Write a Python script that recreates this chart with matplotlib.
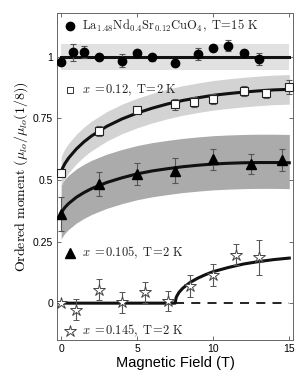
import matplotlib
matplotlib.use("Agg")
import matplotlib.pyplot as plt
import numpy as np

plt.rcParams['mathtext.fontset'] = 'cm'
plt.rcParams['font.family'] = ['Liberation Sans', 'DejaVu Sans']

# ---- data ----
circle_T = [0, 0.75, 1.5, 2.5, 4, 5, 6, 7.5, 9, 10, 11, 12, 13]
circle_M = [0.980, 1.018, 1.020, 0.998, 0.985, 1.015, 0.998, 0.977, 1.011, 1.034, 1.045, 1.014, 0.990]
circle_err = [0.012, 0.036, 0.024, 0.012, 0.025, 0.012, 0.014, 0.012, 0.024, 0.012, 0.022, 0.012, 0.024]

sq_T = [0, 2.5, 5, 7.5, 8.75, 10, 12, 13.5, 15]
sq_M = [0.530, 0.699, 0.784, 0.807, 0.818, 0.830, 0.861, 0.853, 0.878]
sq_err = [0.010, 0.020, 0.010, 0.022, 0.020, 0.020, 0.020, 0.018, 0.028]

tri_T = [0, 2.5, 5, 7.5, 10, 12.5, 14.5]
tri_M = [0.363, 0.484, 0.525, 0.538, 0.584, 0.565, 0.581]
tri_err = [0.070, 0.049, 0.046, 0.050, 0.042, 0.042, 0.045]

st_T = [0, 1, 2.5, 4, 5.5, 7, 8.5, 10, 11.5, 13]
st_M = [0.0, -0.026, 0.055, 0.003, 0.044, 0.010, 0.071, 0.115, 0.197, 0.186]
st_err = [0.0, 0.042, 0.042, 0.041, 0.042, 0.041, 0.045, 0.045, 0.043, 0.072]

# fit curves
fit_T = [0, 0.1, 0.25, 0.5, 1, 1.5, 2, 3, 4, 5, 6, 7, 8, 9, 10, 11, 12, 13, 14, 15]
sq_fit = [0.533, 0.549, 0.567, 0.590, 0.626, 0.655, 0.679, 0.718, 0.748, 0.772,
          0.792, 0.809, 0.823, 0.834, 0.844, 0.851, 0.857, 0.862, 0.866, 0.868]
tri_fit = [0.365, 0.376, 0.389, 0.405, 0.430, 0.449, 0.465, 0.490, 0.509, 0.525,
           0.537, 0.546, 0.554, 0.560, 0.565, 0.568, 0.570, 0.571, 0.571, 0.570]
st_fit_T = [0, 7.5, 7.55, 7.6, 7.75, 8, 8.5, 9, 9.5, 10, 11, 12, 13, 14, 15]
st_fit = [0, 0, 0.020, 0.028, 0.044, 0.061, 0.085, 0.102, 0.116, 0.128, 0.145,
          0.159, 0.169, 0.177, 0.183]

circle_level = 1.0
circle_band = 0.054
sq_band = 0.06
tri_band_up = 0.115
tri_band_dn = 0.105

xticks = [0, 5, 10, 15]
yticks = [0, 0.25, 0.5, 0.75, 1]
yticklabels = ['0', '0.25', '0.5', '0.75', '1']

labels = [r'$\mathrm{La_{1.48}Nd_{0.4}Sr_{0.12}CuO_4,\ T\!=\!15\ K}$',
          r'$x\ =\!0.12,\ \mathrm{T\!=\!2\ K}$',
          r'$x\ =\!0.105,\ \mathrm{T\!=\!2\ K}$',
          r'$x\ =\!0.145,\ \mathrm{T\!=\!2\ K}$']

# ---- figure ----
fig = plt.figure(figsize=(3.05, 3.8), dpi=100)
ax = fig.add_axes([0.188, 0.105, 0.773, 0.862])

ft = np.array(fit_T)
sqf = np.array(sq_fit)
trf = np.array(tri_fit)

ax.fill_between([0, 15], circle_level - circle_band, circle_level + circle_band,
                color='#e1e1e1', lw=0, zorder=1)
ax.fill_between(ft, trf - tri_band_dn, trf + tri_band_up, color='#ababab', lw=0, zorder=1)
ax.fill_between(ft, sqf - sq_band, sqf + sq_band, color='#d3d3d3', lw=0, zorder=1.1)

# fit lines
ax.plot([0, 15], [circle_level, circle_level], color='#111111', lw=2.2, zorder=3)
ax.plot(ft, sqf, color='#111111', lw=2.2, zorder=3)
ax.plot(ft, trf, color='#111111', lw=2.2, zorder=3)
ax.plot(st_fit_T, st_fit, color='#111111', lw=2.2, zorder=3)
ax.plot([7.5, 15], [0, 0], color='#111111', lw=1.3, ls=(0, (5, 4)), zorder=2)

ebkw = dict(ecolor='#555555', elinewidth=0.8, capsize=2.2, capthick=0.8, ls='none', zorder=4)
ax.errorbar(circle_T, circle_M, yerr=circle_err, fmt='o', ms=6, mfc='black', mec='black', **ebkw)
ax.errorbar(sq_T, sq_M, yerr=sq_err, fmt='s', ms=6, mfc='white', mec='#222222', mew=0.8, **ebkw)
ax.errorbar(tri_T, tri_M, yerr=tri_err, fmt='^', ms=7, mfc='black', mec='black', **ebkw)
ax.errorbar(st_T, st_M, yerr=st_err, fmt='*', ms=9, mfc='white', mec='#444444', mew=0.7, **ebkw)

# legend-like labels
lab_y = [1.124, 0.865, 0.205, -0.114]
markers = [dict(marker='o', ms=6, mfc='black', mec='black'),
           dict(marker='s', ms=5, mfc='white', mec='#333333', mew=0.7),
           dict(marker='^', ms=6.5, mfc='black', mec='black'),
           dict(marker='*', ms=9, mfc='white', mec='#444444', mew=0.7)]
for yv, mk, lab in zip(lab_y, markers, labels):
    ax.plot([0.6], [yv], ls='none', zorder=5, **mk)
    ax.text(1.4, yv, lab, fontsize=9, va='center', ha='left', color='#222222', zorder=5)

ax.set_xlim(-0.25, 15.25)
ax.set_ylim(-0.15, 1.18)
ax.set_xticks(xticks)
ax.set_yticks(yticks)
ax.set_yticklabels(yticklabels)
ax.tick_params(direction='in', top=True, right=True, labelsize=7.5, length=3,
               width=0.6, color='#555555', pad=3)
for s in ax.spines.values():
    s.set_color('#666666')
    s.set_linewidth(0.7)

ax.set_xlabel('Magnetic Field (T)', fontsize=10.5, labelpad=1)
ax.set_ylabel(r'$\mathrm{Ordered\ moment}\ (\mu_{lo}/\mu_{lo}(1/8))$', fontsize=10, labelpad=2)

fig.savefig('out.png', dpi=100)
